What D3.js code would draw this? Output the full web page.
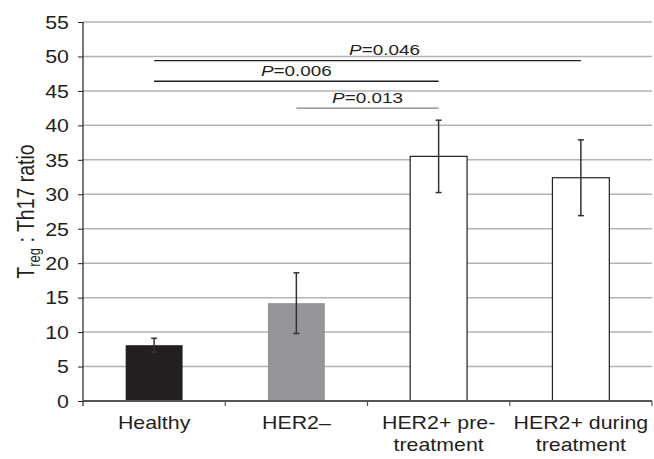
<!DOCTYPE html>
<html>
<head>
<script src="https://cdn.jsdelivr.net/npm/d3@7"></script>
<style>
body { margin: 0; background: #fff; }
text { font-family: "Liberation Sans", Arial, sans-serif; fill: #231f20; }
.grid line { stroke: #b3b3b3; stroke-width: 1.5; }
</style>
</head>
<body>
<div id="chart"></div>
<script>
var groups = ["Healthy", "HER2–", "HER2+ pre-treatment", "HER2+ during treatment"];
var labelLines = [["Healthy"], ["HER2–"], ["HER2+ pre-", "treatment"], ["HER2+ during", "treatment"]];
var means = [8.1, 14.2, 35.5, 32.4];
var errs = [1.0, 4.4, 5.25, 5.5];
var fills = ["#231f20", "#939598", "#ffffff", "#ffffff"];
var yTicks = [0, 5, 10, 15, 20, 25, 30, 35, 40, 45, 50, 55];

// significance brackets: from group, to group, height, label
var sigFrom = [0, 0, 1];
var sigTo = [3, 2, 2];
var sigY = [49.4, 46.4, 42.5];
var sigP = ["0.046", "0.006", "0.013"];
var sigDx = [17, 0, 0];
var sigColor = ["#231f20", "#231f20", "#808080"];

var w = 654, h = 459,
    mLeft = 83, mRight = 652, mTop = 22, mBottom = 401,
    sx = 1.22; // the reference type is a little wide

var svg = d3.select("#chart").append("svg")
    .attr("width", w)
    .attr("height", h);

var x = d3.scaleBand()
    .domain(groups)
    .range([mLeft, mRight]);

var y = d3.scaleLinear()
    .domain([0, 55])
    .range([mBottom, mTop]);

var barW = x.bandwidth() * 0.4;
function cx(i) { return x(groups[i]) + x.bandwidth() / 2; }

// gridlines
svg.append("g").attr("class", "grid")
  .selectAll("line")
  .data(yTicks.filter(function(d) { return d > 0; }))
  .enter().append("line")
    .attr("x1", mLeft).attr("x2", mRight)
    .attr("y1", function(d) { return y(d); })
    .attr("y2", function(d) { return y(d); });

// bars
svg.selectAll("rect.bar")
    .data(means)
  .enter().append("rect")
    .attr("class", "bar")
    .attr("x", function(d, i) { return cx(i) - barW / 2; })
    .attr("y", function(d) { return y(d); })
    .attr("width", barW)
    .attr("height", function(d) { return y(0) - y(d); })
    .style("fill", function(d, i) { return fills[i]; })
    .style("stroke", function(d, i) { return i > 1 ? "#231f20" : "none"; })
    .style("stroke-width", 1.2);

// error bars
var eb = svg.append("g")
    .style("stroke", "#333")
    .style("stroke-width", 1.5);
means.forEach(function(m, i) {
  var xc = cx(i);
  eb.append("line").attr("x1", xc).attr("x2", xc)
    .attr("y1", y(m - errs[i])).attr("y2", y(m + errs[i]));
  [m - errs[i], m + errs[i]].forEach(function(v) {
    eb.append("line").attr("x1", xc - 3).attr("x2", xc + 3)
      .attr("y1", y(v)).attr("y2", y(v));
  });
});

// y axis
var yAxis = svg.append("g")
    .attr("transform", "translate(" + mLeft + ",0)")
    .call(d3.axisLeft(y).tickValues(yTicks).tickSize(5));
yAxis.select(".domain").remove();
yAxis.selectAll(".tick line").style("stroke", "#231f20");
yAxis.selectAll("text")
    .attr("x", null).attr("dy", null)
    .attr("transform", "translate(-14,6.3) scale(" + sx + ",1)")
    .style("font-size", "17.5px")
    .style("font-family", "'Liberation Sans', Arial, sans-serif")
    .style("fill", "#231f20");
svg.append("line")
    .attr("x1", mLeft).attr("x2", mLeft)
    .attr("y1", mTop).attr("y2", mBottom + 5)
    .style("stroke", "#231f20").style("stroke-width", 1.2);

// x axis
svg.append("line")
    .attr("x1", mLeft).attr("x2", mRight)
    .attr("y1", mBottom).attr("y2", mBottom)
    .style("stroke", "#555").style("stroke-width", 2);
svg.selectAll("line.xtick")
    .data(groups.slice(1).concat([null]))
  .enter().append("line")
    .attr("class", "xtick")
    .attr("x1", function(d) { return d ? x(d) : mRight; })
    .attr("x2", function(d) { return d ? x(d) : mRight; })
    .attr("y1", mBottom).attr("y2", mBottom + 5)
    .style("stroke", "#555").style("stroke-width", 1.2);

labelLines.forEach(function(lines, i) {
  lines.forEach(function(s, j) {
    svg.append("text")
      .attr("transform", "translate(" + cx(i) + "," + (429 + j * 22) + ") scale(" + sx + ",1)")
      .attr("text-anchor", "middle")
      .style("font-size", "17.5px")
      .text(s);
  });
});

// y label
var yl = svg.append("text")
    .attr("transform", "translate(34," + ((mTop + mBottom) / 2) + ") rotate(-90) scale(1," + sx + ")")
    .attr("text-anchor", "middle")
    .style("font-size", "19.5px");
yl.append("tspan").text("T");
yl.append("tspan").attr("dy", 5).style("font-size", "13px").text("reg");
yl.append("tspan").attr("dy", -5).text(" : Th17 ratio");

// significance
sigP.forEach(function(p, k) {
  var x1 = cx(sigFrom[k]), x2 = cx(sigTo[k]);
  svg.append("line")
    .attr("x1", x1).attr("x2", x2)
    .attr("y1", y(sigY[k])).attr("y2", y(sigY[k]))
    .style("stroke", sigColor[k]).style("stroke-width", 1.3);
  var t = svg.append("text")
    .attr("transform", "translate(" + ((x1 + x2) / 2 + sigDx[k]) + "," + (y(sigY[k]) - 5.5) + ") scale(" + sx + ",1)")
    .attr("text-anchor", "middle")
    .style("font-size", "15.5px");
  t.append("tspan").style("font-style", "italic").text("P");
  t.append("tspan").text("=" + p);
});
</script>
</body>
</html>
